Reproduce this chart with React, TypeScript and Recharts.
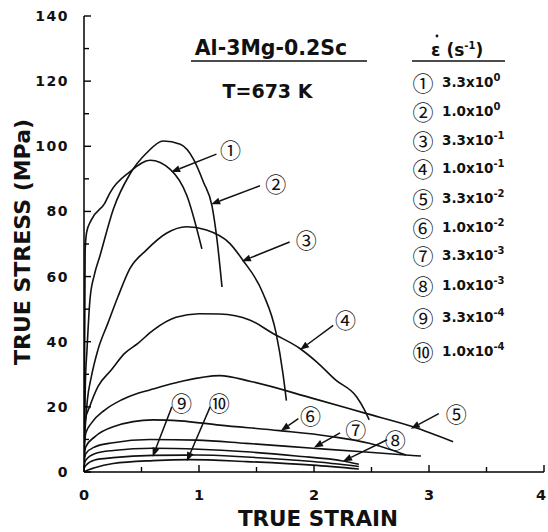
import React from "react";
import { LineChart, Line, XAxis, YAxis, ReferenceLine, ReferenceDot } from "recharts";

// curves, one strain / stress pair per strain rate
const strain1 = [0, 0.01, 0.023, 0.064, 0.18, 0.227, 0.4, 0.575, 0.75, 0.895, 1.025];
const stress1 = [0, 68, 73.6, 77.4, 82.5, 85.8, 92.2, 95.7, 92.9, 84.8, 68.5];

const strain2 = [0, 0.012, 0.026, 0.052, 0.09, 0.139, 0.255, 0.4, 0.546, 0.69, 0.837, 0.953, 1.04, 1.113, 1.156, 1.2];
const stress2 = [3, 27.3, 37.5, 53, 60.5, 66.4, 80.7, 91.5, 98, 101.6, 100.6, 96, 88.9, 81.7, 71.5, 56.8];

const strain3 = [0, 0.029, 0.064, 0.121, 0.208, 0.295, 0.4, 0.544, 0.717, 0.89, 1.065, 1.267, 1.38, 1.556, 1.67, 1.73, 1.76];
const stress3 = [8, 22, 29.3, 37.5, 45.7, 53.8, 62.5, 68.2, 73.3, 75.3, 74.3, 70.2, 65.1, 54.9, 42.7, 30.2, 21.9];

const strain4 = [0, 0.012, 0.049, 0.121, 0.237, 0.353, 0.469, 0.6, 0.8, 1.0, 1.18, 1.44, 1.64, 1.874, 2.02, 2.19, 2.37, 2.44, 2.48];
const stress4 = [10, 16, 20, 26.2, 31.3, 36.4, 39.5, 43.5, 47.5, 48.6, 48.5, 46.7, 42.6, 38, 33.9, 28.2, 23.1, 19, 16];

const strain5 = [0, 0.015, 0.064, 0.18, 0.324, 0.469, 0.573, 0.833, 1.18, 1.45, 1.99, 2.45, 2.86, 3.21];
const stress5 = [6, 11.9, 15, 19, 22.1, 24.2, 25.2, 27.7, 29.6, 27.8, 22.6, 18, 13.9, 9.3];

const strain6 = [0, 0.015, 0.093, 0.254, 0.6, 0.833, 1.18, 1.7, 2.13, 2.48, 2.655, 2.8];
const stress6 = [4, 7.7, 10.8, 13.9, 16, 15.7, 14.4, 12.7, 11, 8.8, 7, 5.2];

const strain7 = [0, 0.015, 0.093, 0.254, 0.573, 0.98, 1.41, 1.99, 2.42, 2.93];
const stress7 = [3, 5.6, 7.7, 9.0, 10.0, 9.8, 8.8, 7.3, 6.2, 4.9];

const strain8 = [0, 0.015, 0.093, 0.254, 0.6, 1.0, 1.41, 1.845, 2.25, 2.39];
const stress8 = [2, 3.6, 5.6, 6.6, 7.3, 7.0, 6.2, 4.9, 3.4, 2.4];

const strain9 = [0, 0.015, 0.093, 0.254, 0.6, 0.98, 1.41, 1.99, 2.39];
const stress9 = [1, 2, 3.7, 4.4, 5.1, 5.2, 4.6, 3.2, 1.7];

const strain10 = [0, 0.015, 0.093, 0.254, 0.6, 0.92, 1.41, 1.99, 2.39];
const stress10 = [0, 0.3, 1.3, 2.6, 3.5, 3.8, 3.2, 2.1, 0.9];

// strain rates in the legend
const circled = ["①", "②", "③", "④", "⑤", "⑥", "⑦", "⑧", "⑨", "⑩"];
const rateMantissa = ["3.3", "1.0", "3.3", "1.0", "3.3", "1.0", "3.3", "1.0", "3.3", "1.0"];
const rateExponent = ["0", "0", "-1", "-1", "-2", "-2", "-3", "-3", "-4", "-4"];

// callout labels and arrows (data coords)
const labelStrain = [1.273, 1.667, 1.933, 2.273, 3.236, 1.97, 2.364, 2.706, 0.848, 1.176];
const labelStress = [99.2, 88.8, 71.5, 47.0, 18.2, 17.5, 13.3, 10.2, 21.6, 21.6];
const tailStrain = [1.152, 1.53, 1.788, 2.167, 3.085, 1.864, 2.227, 2.636, 0.764, 1.097];
const tailStress = [97.6, 87.9, 70.6, 45, 17.9, 16.4, 12, 9.9, 20, 20];
const headStrain = [0.758, 1.106, 1.373, 1.879, 2.842, 1.712, 2.0, 2.252, 0.597, 0.894];
const headStress = [92.1, 82.2, 64.7, 37.5, 13.3, 12.7, 7.5, 3.3, 4.7, 3.3];

const xTicks = [0, 0.5, 1, 1.5, 2, 2.5, 3, 3.5, 4];
const yTicks = [0, 10, 20, 30, 40, 50, 60, 70, 80, 90, 100, 110, 120, 130, 140];

const curves = [
  [strain1, stress1], [strain2, stress2], [strain3, stress3], [strain4, stress4], [strain5, stress5],
  [strain6, stress6], [strain7, stress7], [strain8, stress8], [strain9, stress9], [strain10, stress10],
].map(([xs, ys]) => xs.map((x, i) => ({ x, y: ys[i] })));

const BOLD = "'DejaVu Sans', sans-serif";
const CIRC = "'Noto Sans CJK JP', 'DejaVu Sans', sans-serif";
const legendY = [82, 111, 140, 168, 198, 227, 255, 285, 317, 351];

const BottomTick = (p: any) => {
  const v = p.payload.value;
  const major = Number.isInteger(v);
  return (
    <g>
      <line x1={p.x} x2={p.x} y1={p.y} y2={p.y - (major ? 7 : 5)} stroke="#000" strokeWidth={1.4} />
      {major && (
        <text x={Math.min(p.x, 541)} y={p.y + 28} textAnchor="middle" fontFamily={BOLD} fontWeight="bold" fontSize={14.5} fill="#111">
          {v}
        </text>
      )}
    </g>
  );
};

const TopTick = (p: any) => {
  const major = Number.isInteger(p.payload.value);
  return <line x1={p.x} x2={p.x} y1={p.y} y2={p.y + (major ? 7 : 5)} stroke="#000" strokeWidth={1.4} />;
};

const LeftTick = (p: any) => {
  const v = p.payload.value;
  const major = v % 20 === 0;
  return (
    <g>
      <line x1={p.x} x2={p.x + (major ? 7 : 5)} y1={p.y} y2={p.y} stroke="#000" strokeWidth={1.4} />
      {major && (
        <text x={p.x - 15} y={p.y + 5} textAnchor="end" fontFamily={BOLD} fontWeight="bold" fontSize={14} letterSpacing={1.5} fill="#111">
          {v}
        </text>
      )}
    </g>
  );
};

const RightTick = (p: any) => {
  const major = p.payload.value % 20 === 0;
  return <line x1={p.x} x2={p.x - (major ? 7 : 5)} y1={p.y} y2={p.y} stroke="#000" strokeWidth={1.4} />;
};

const arrowShape = (p: any) => {
  const { x1, y1, x2, y2 } = p;
  const dx = x2 - x1;
  const dy = y2 - y1;
  const len = Math.sqrt(dx * dx + dy * dy) || 1;
  const ux = dx / len;
  const uy = dy / len;
  const L = 9;
  const W = 3.5;
  const bx = x2 - ux * L;
  const by = y2 - uy * L;
  return (
    <g>
      <line x1={x1} y1={y1} x2={bx} y2={by} stroke="#111" strokeWidth={1.5} />
      <polygon
        points={`${x2},${y2} ${bx - uy * W},${by + ux * W} ${bx + uy * W},${by - ux * W}`}
        fill="#111"
      />
    </g>
  );
};

const axisStyle = { stroke: "#000", strokeWidth: 1.5 };

export default function App() {
  return (
    <div style={{ position: "absolute", left: 0, top: 0, width: 548, height: 532, background: "#fff" }}>
      <LineChart width={548} height={532} margin={{ top: 16, right: 4, bottom: 0, left: 0 }}>
        <XAxis
          dataKey="x"
          type="number"
          domain={[0, 4]}
          ticks={xTicks}
          interval={0}
          allowDataOverflow
          height={60}
          tickSize={0}
          tickMargin={0}
          tickLine={false}
          axisLine={axisStyle}
          tick={BottomTick}
        />
        <XAxis
          xAxisId="top"
          orientation="top"
          type="number"
          domain={[0, 4]}
          ticks={xTicks}
          interval={0}
          height={0}
          tickSize={0}
          tickMargin={0}
          tickLine={false}
          axisLine={axisStyle}
          tick={TopTick}
        />
        <YAxis
          type="number"
          domain={[0, 140]}
          ticks={yTicks}
          interval={0}
          allowDataOverflow
          width={84}
          tickSize={0}
          tickMargin={0}
          tickLine={false}
          axisLine={axisStyle}
          tick={LeftTick}
        />
        <YAxis
          yAxisId="right"
          orientation="right"
          type="number"
          domain={[0, 140]}
          ticks={yTicks}
          interval={0}
          width={0}
          tickSize={0}
          tickMargin={0}
          tickLine={false}
          axisLine={axisStyle}
          tick={RightTick}
        />
        {curves.map((d, i) => (
          <Line
            key={i}
            data={d}
            dataKey="y"
            type="monotone"
            stroke="#111"
            strokeWidth={1.6}
            dot={false}
            activeDot={false}
            isAnimationActive={false}
          />
        ))}
        {headStrain.map((hx, i) => (
          <ReferenceLine
            key={"a" + i}
            segment={[
              { x: tailStrain[i], y: tailStress[i] },
              { x: hx, y: headStress[i] },
            ]}
            ifOverflow="visible"
            shape={arrowShape}
          />
        ))}
        {labelStrain.map((lx, i) => (
          <ReferenceDot
            key={"l" + i}
            x={lx}
            y={labelStress[i]}
            r={0}
            ifOverflow="visible"
            shape={(p: any) => (
              <text x={p.cx} y={p.cy} textAnchor="middle" dominantBaseline="central" fontFamily={CIRC} fontSize={21} fill="#111">
                {circled[i]}
              </text>
            )}
          />
        ))}
      </LineChart>
      <svg width={548} height={532} style={{ position: "absolute", left: 0, top: 0, pointerEvents: "none" }}>
        <g fontFamily={BOLD} fontWeight="bold" fill="#111">
          <text x={22} y={242} transform="rotate(-90 22 242)" textAnchor="middle" dominantBaseline="central" fontSize={22}>
            TRUE STRESS (MPa)
          </text>
          <text x={318} y={526} textAnchor="middle" fontSize={21.5}>
            TRUE STRAIN
          </text>
          <text x={271} y={55} textAnchor="middle" fontSize={20.5}>
            Al-3Mg-0.2Sc
          </text>
          <text x={267.5} y={98} textAnchor="middle" fontSize={19}>
            T=673 K
          </text>
          <text x={431} y={56} fontSize={17}>
            ε (s<tspan dy={-7} fontSize={10}>-1</tspan>
            <tspan dy={7}>)</tspan>
          </text>
          {rateMantissa.map((m, i) => (
            <text key={i} x={442} y={legendY[i] + 5} fontSize={13.5}>
              {m}x10<tspan dy={-6} fontSize={10}>{rateExponent[i]}</tspan>
            </text>
          ))}
        </g>
        <circle cx={437} cy={36} r={1.4} fill="#111" />
        <line x1={191} x2={367} y1={61} y2={61} stroke="#111" strokeWidth={1.5} />
        <line x1={412} x2={505} y1={61} y2={61} stroke="#111" strokeWidth={1.5} />
        {circled.map((c, i) => (
          <text key={i} x={423} y={legendY[i]} textAnchor="middle" dominantBaseline="central" fontFamily={CIRC} fontSize={21} fill="#111">
            {c}
          </text>
        ))}
      </svg>
    </div>
  );
}
